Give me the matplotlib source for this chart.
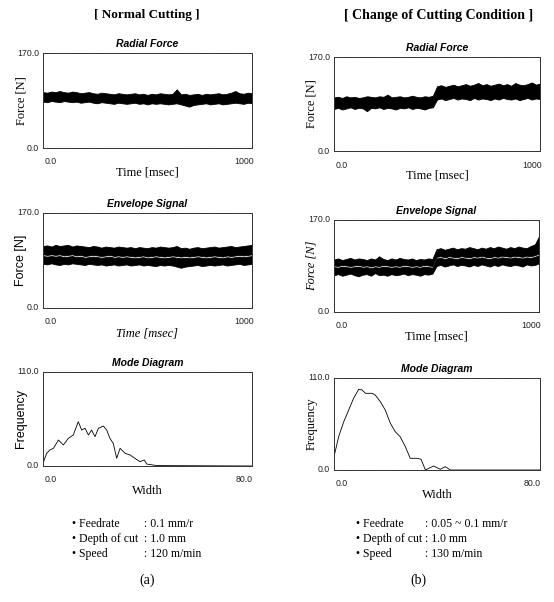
import matplotlib.pyplot as plt
import numpy as np

W, H = 554, 602
SERIF = "Liberation Serif"
SANS = "Liberation Sans"

# sample times of the force records [msec]
t_ms = [0, 20, 40, 60, 80, 100, 120, 140, 160, 180, 200, 220, 240, 260, 280,
        300, 320, 340, 360, 380, 400, 420, 440, 460, 480, 500, 520, 540, 560,
        580, 600, 620, 640, 660, 680, 700, 720, 740, 760, 780, 800, 820, 840,
        860, 880, 900, 920, 940, 960, 980, 1000]

# (a) normal cutting - radial force band (min / max per sample)
rad_a_hi = [100, 99, 101, 100, 102, 100, 99, 101, 100, 98, 99, 100, 98, 97,
            99, 98, 97, 96, 98, 97, 96, 97, 98, 96, 97, 95, 97, 96, 98, 97,
            96, 97, 105, 96, 97, 95, 96, 97, 95, 97, 96, 97, 98, 96, 97, 99,
            102, 98, 97, 99, 98]
rad_a_lo = [83, 82, 84, 83, 82, 84, 83, 82, 83, 81, 82, 83, 81, 80, 82, 81,
            80, 79, 81, 80, 79, 80, 81, 79, 80, 78, 80, 79, 80, 79, 78, 79,
            80, 78, 76, 74, 77, 78, 79, 80, 78, 79, 80, 78, 79, 80, 81, 80,
            79, 81, 80]

# (b) feedrate change at ~500 msec - radial force band
rad_b_hi = [97, 98, 96, 99, 97, 98, 96, 97, 99, 98, 97, 99, 98, 102, 97, 98,
            99, 97, 98, 100, 98, 97, 99, 98, 100,
            117, 119, 116, 118, 120, 117, 119, 121, 118, 120, 123, 119, 121,
            118, 120, 122, 119, 121, 118, 123, 120, 119, 121, 124, 120, 122]
rad_b_lo = [76, 78, 75, 77, 79, 76, 78, 77, 72, 78, 77, 79, 76, 78, 77, 75,
            78, 77, 79, 76, 78, 77, 75, 78, 79,
            93, 95, 92, 94, 96, 93, 95, 94, 92, 96, 93, 95, 94, 92, 95, 93,
            96, 94, 93, 95, 92, 94, 96, 93, 95, 94]

# (a) envelope signal: upper and lower envelope bands
env_a_up_hi = [111, 112, 110, 113, 111, 112, 113, 110, 112, 111, 110, 109,
               111, 110, 108, 110, 109, 108, 110, 109, 108, 109, 107, 109,
               108, 107, 109, 108, 110, 109, 108, 109, 111, 107, 108, 106,
               108, 109, 107, 108, 109, 110, 108, 109, 110, 111, 109, 110,
               111, 112, 113]
env_a_up_lo = [96, 95, 96, 95, 96, 94, 95, 96, 94, 95, 93, 94, 95, 94, 93, 94,
               95, 93, 94, 93, 94, 93, 92, 93, 94, 92, 93, 94, 93, 92, 93, 94,
               93, 92, 93, 92, 93, 94, 93, 92, 93, 94, 93, 92, 94, 93, 94, 95,
               94, 95, 96]
env_a_dn_hi = [93, 92, 93, 92, 93, 91, 92, 93, 91, 92, 90, 91, 92, 91, 90, 91,
               92, 90, 91, 90, 91, 90, 89, 90, 91, 89, 90, 91, 90, 89, 90, 91,
               90, 89, 90, 89, 90, 91, 90, 89, 90, 91, 90, 89, 91, 90, 91, 92,
               91, 92, 93]
env_a_dn_lo = [79, 78, 80, 78, 77, 79, 78, 80, 79, 78, 77, 79, 78, 77, 78, 76,
               77, 78, 76, 77, 78, 76, 77, 78, 76, 77, 76, 75, 77, 76, 77, 76,
               74, 72, 74, 75, 76, 77, 75, 76, 77, 76, 77, 78, 76, 77, 78, 79,
               77, 78, 79]

# (b) envelope signal
env_b_up_hi = [97, 99, 96, 98, 100, 97, 99, 98, 96, 99, 97, 103, 98, 96, 99,
               97, 100, 98, 97, 99, 96, 98, 97, 99, 98,
               116, 118, 115, 117, 119, 116, 118, 117, 120, 118, 116, 119, 117,
               120, 118, 121, 119, 117, 120, 118, 121, 119, 118, 122, 125, 140]
env_b_up_lo = [86, 85, 87, 86, 85, 86, 87, 85, 86, 84, 86, 85, 87, 86, 85, 86,
               85, 87, 86, 85, 86, 85, 87, 86, 85,
               102, 103, 101, 103, 102, 101, 103, 102, 101, 103, 102, 104, 102,
               101, 103, 102, 104, 103, 102, 104, 103, 102, 104, 103, 105, 108]
env_b_dn_hi = [83, 82, 84, 83, 82, 83, 84, 82, 83, 81, 83, 82, 84, 83, 82, 83,
               82, 84, 83, 82, 83, 82, 84, 83, 82,
               99, 100, 98, 100, 99, 98, 100, 99, 98, 100, 99, 101, 99, 98, 100,
               99, 101, 100, 99, 101, 100, 99, 101, 100, 102, 105]
env_b_dn_lo = [68, 70, 67, 69, 71, 68, 66, 69, 70, 67, 72, 68, 69, 67, 70, 68,
               69, 71, 68, 70, 69, 67, 70, 69, 71,
               85, 87, 84, 86, 88, 85, 87, 86, 84, 87, 85, 88, 86, 84, 87, 85,
               88, 86, 85, 87, 86, 84, 88, 86, 87, 90]

# mode diagrams (width vs. frequency)
mode_a_w = [0.0, 1.4, 2.6, 4.0, 5.9, 7.8, 9.7, 11.6, 13.5, 14.8, 16.1, 17.4,
            18.6, 19.9, 21.2, 23.1, 24.4, 25.6, 26.9, 28.2, 29.5, 31.4, 33.3,
            35.2, 37.1, 38.8, 39.7, 43.5, 80.0]
mode_a_f = [3.1, 14.9, 18.7, 20.7, 30.4, 24.6, 32.4, 36.3, 51.9, 42.1, 44.1,
            36.3, 42.1, 34.3, 44.1, 46.8, 42.1, 32.4, 26.5, 9.0, 20.7, 14.9,
            12.9, 9.0, 5.1, 7.0, 2.3, 0.5, 0.0]
mode_b_w = [0.0, 1.8, 3.8, 5.7, 7.6, 9.6, 10.9, 12.2, 14.8, 16.0, 18.0, 19.9,
            21.9, 23.8, 25.7, 27.7, 29.6, 32.2, 33.8, 35.5, 38.7, 41.3, 43.2,
            45.2, 80.0]
mode_b_f = [15.9, 39.8, 57.8, 71.7, 85.7, 96.5, 95.7, 91.7, 91.7, 89.7, 81.7,
            71.7, 55.8, 45.8, 39.8, 27.9, 14.0, 14.0, 12.8, 0.0, 4.8, 0.8,
            4.0, 0.0, 0.0]

notes_a = [("Feedrate", "0.1 mm/r"), ("Depth of cut", "1.0 mm"),
           ("Speed", "120 m/min")]
notes_b = [("Feedrate", "0.05 ~ 0.1 mm/r"), ("Depth of cut", "1.0 mm"),
           ("Speed", "130 m/min")]


def ptext(fig, x, y, s, **kw):
	"""Place text using pixel coordinates measured from the top left"""
	fig.text(x / W, 1 - y / H, s, **kw)


def frame(fig, box, xmax, ymax, title, xlabel, ylabel,
          xfont=None, yfont=None):
	"""Plain boxed panel with only the end values written at the corners"""
	x0, y0, x1, y1 = box
	ax = fig.add_axes([x0 / W, 1 - y1 / H, (x1 - x0) / W, (y1 - y0) / H])
	ax.set(xlim=(0, xmax), ylim=(0, ymax), xticks=[], yticks=[])
	for sp in ax.spines.values():
		sp.set(lw=0.7, color="#333333", linestyle=(0, (2, 0.8)))

	tick = dict(family=SANS, fontsize=6.3, color="#222222")
	ptext(fig, x0 - 4, y0, f"{ymax:.1f}", ha="right", va="center", **tick)
	ptext(fig, x0 - 4, y1, "0.0", ha="right", va="center", **tick)
	ptext(fig, x0 + 8, y1 + 14, "0.0", ha="center", va="center", **tick)
	xend = f"{xmax:.1f}" if xmax < 100 else f"{xmax:d}"
	ptext(fig, x1 - 8, y1 + 14, xend, ha="center", va="center", **tick)

	ptext(fig, (x0 + x1) / 2, y0 - 9, title, ha="center", va="center",
	      family=SANS, fontsize=7.5, weight="bold", style="italic")
	xfont = xfont or dict(family=SERIF)
	yfont = yfont or dict(family=SERIF)
	ptext(fig, (x0 + x1) / 2, y1 + 25, xlabel, ha="center", va="center",
	      fontsize=9, **xfont)
	ptext(fig, x0 - 22, (y0 + y1) / 2, ylabel, ha="center", va="center",
	      rotation=90, fontsize=9, **yfont)
	return ax


def band(ax, lo, hi):
	ax.fill_between(t_ms, lo, hi, color="black", lw=0.6, edgecolor="black")


fig = plt.figure(figsize=(W / 100, H / 100), dpi=100)

ptext(fig, 147, 15, "[ Normal Cutting ]", ha="center", va="center",
      family=SERIF, fontsize=9.5, weight="bold")
ptext(fig, 439, 15, "[ Change of Cutting Condition ]", ha="center",
      va="center", family=SERIF, fontsize=10, weight="bold")

# RADIAL FORCE
ax = frame(fig, (43, 53, 252, 148), 1000, 170.0, "Radial Force",
           "Time [msec]", "Force [N]")
band(ax, rad_a_lo, rad_a_hi)
ax = frame(fig, (334, 57, 540, 151), 1000, 170.0, "Radial Force",
           "Time [msec]", "Force [N]")
band(ax, rad_b_lo, rad_b_hi)

# ENVELOPE SIGNAL
ax = frame(fig, (43, 213, 252, 308), 1000, 170.0, "Envelope Signal",
           "Time [msec]", "Force [N]",
           xfont=dict(family=SERIF, style="italic"),
           yfont=dict(family=SANS))
band(ax, env_a_up_lo, env_a_up_hi)
band(ax, env_a_dn_lo, env_a_dn_hi)
ax = frame(fig, (334, 220, 539, 312), 1000, 170.0, "Envelope Signal",
           "Time [msec]", "Force [N]",
           yfont=dict(family=SERIF, style="italic"))
band(ax, env_b_up_lo, env_b_up_hi)
band(ax, env_b_dn_lo, env_b_dn_hi)

# MODE DIAGRAM
ax = frame(fig, (43, 372, 252, 466), 80.0, 110.0, "Mode Diagram",
           "Width", "Frequency", yfont=dict(family=SANS))
ax.plot(mode_a_w, mode_a_f, color="black", lw=0.6)
ax = frame(fig, (334, 378, 540, 470), 80.0, 110.0, "Mode Diagram",
           "Width", "Frequency")
ax.plot(mode_b_w, mode_b_f, color="black", lw=0.6)

# CUTTING CONDITIONS
for notes, xb, xc, tag, xt in [(notes_a, 72, 144, "(a)", 147),
                               (notes_b, 356, 425, "(b)", 418)]:
	for i, (name, val) in enumerate(notes):
		y = 524 + i * 15
		ptext(fig, xb, y, "\u2022 " + name, ha="left", va="center",
		      family=SERIF, fontsize=8.5)
		ptext(fig, xc, y, ": " + val, ha="left", va="center",
		      family=SERIF, fontsize=8.5)
	ptext(fig, xt, 580, tag, ha="center", va="center", family=SERIF,
	      fontsize=10)

plt.savefig("out.png", dpi=100)
plt.close()
